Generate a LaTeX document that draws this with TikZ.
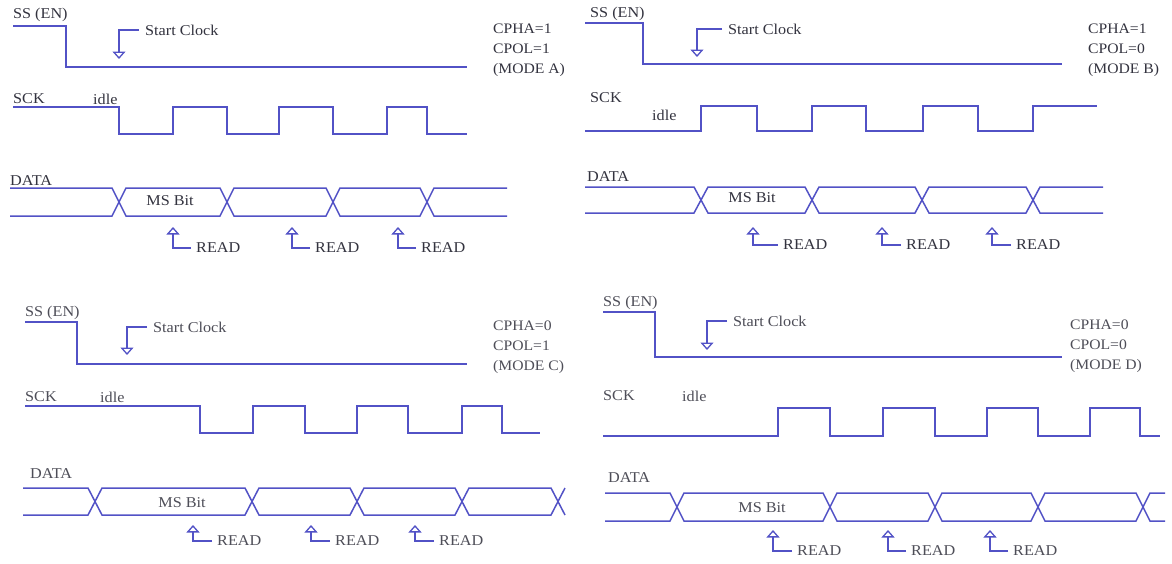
\documentclass[tikz,border=0pt]{standalone}
\usepackage{fontspec}
\setmainfont{Liberation Serif}[FakeStretch=1.08]
\usepackage{tikz}
\usetikzlibrary{arrows.meta}
\definecolor{wave}{HTML}{5252C6}
\definecolor{ink}{HTML}{33333F}
\definecolor{inklight}{HTML}{4E4E58}
\tikzset{
  sig/.style={draw=wave,line width=1.5pt,line join=miter},
  ptr/.style={draw=wave,line width=1.3pt,-{Triangle[open,width=13pt,length=7.5pt]}},
  lbl/.style={inner sep=0pt,anchor=west,text=ink,font=\fontsize{15}{18}\selectfont},
  modetxt/.style={inner sep=0pt,anchor=west,align=left,text=ink,font=\fontsize{14.5}{20}\selectfont},
  bittxt/.style={inner sep=0pt,text=ink,font=\fontsize{15}{18}\selectfont},
}

\begin{document}
\begin{tikzpicture}[x=1pt,y=-1pt]
  \fill[white] (0,0) rectangle (1172,563);
  \useasboundingbox (0,0) rectangle (1172,563);

  % mode A
  \node[lbl] (ssA) at (13,15) {SS (EN)};
  \draw[sig] (13,26) -- (66,26) -- (66,67) -- (467,67);
  \node[lbl] (startA) at (145,30) {Start Clock};
  \coordinate (clkA) at (119,59);
  \draw[ptr] ([xshift=-6]startA.west) -| (clkA);
  \node[modetxt] (modeA) at (493,50) {CPHA=1\\CPOL=1\\(MODE A)};
  \node[lbl] (sckA) at (13,99) {SCK};
  \node[lbl] (idleA) at (93,99) {idle};
  \draw[sig] (13,107) -- (119,107) -- (119,134) -- (173,134) -- (173,107) -- (227,107) -- (227,134)
    -- (279,134) -- (279,107) -- (333,107) -- (333,134) -- (387,134) -- (387,107) -- (427,107)
    -- (427,134) -- (467,134);
  \node[lbl] (dataA) at (10,181) {DATA};
  \draw[sig] (10,188) -- (112,188) -- (126,216) -- (220,216) -- (234,188) -- (326,188) -- (340,216)
    -- (420,216) -- (434,188) -- (507,188);
  \draw[sig] (10,216) -- (112,216) -- (126,188) -- (220,188) -- (234,216) -- (326,216) -- (340,188)
    -- (420,188) -- (434,216) -- (507,216);
  \node[bittxt] (msbA) at (170,201) {MS Bit};
  \node[lbl] (readA1) at (196,248) {READ};
  \node[lbl] (readA2) at (315,248) {READ};
  \node[lbl] (readA3) at (421,248) {READ};
  \coordinate (tipA1) at (173,227);
  \coordinate (tipA2) at (292,227);
  \coordinate (tipA3) at (398,227);
  \draw[ptr] ([xshift=-5]readA1.west) -| (tipA1);
  \draw[ptr] ([xshift=-5]readA2.west) -| (tipA2);
  \draw[ptr] ([xshift=-5]readA3.west) -| (tipA3);

  % mode B
  \node[lbl] (ssB) at (590,14) {SS (EN)};
  \draw[sig] (585,23) -- (643,23) -- (643,64) -- (1062,64);
  \node[lbl] (startB) at (728,29) {Start Clock};
  \coordinate (clkB) at (697,57);
  \draw[ptr] ([xshift=-6]startB.west) -| (clkB);
  \node[modetxt] (modeB) at (1088,50) {CPHA=1\\CPOL=0\\(MODE B)};
  \node[lbl] (sckB) at (590,98) {SCK};
  \node[lbl] (idleB) at (652,115) {idle};
  \draw[sig] (585,131) -- (701,131) -- (701,106) -- (757,106) -- (757,131) -- (812,131) -- (812,106)
    -- (866,106) -- (866,131) -- (923,131) -- (923,106) -- (978,106) -- (978,131) -- (1033,131)
    -- (1033,106) -- (1097,106);
  \node[lbl] (dataB) at (587,177) {DATA};
  \draw[sig] (585,187) -- (694,187) -- (708,213) -- (805,213) -- (819,187) -- (915,187) -- (929,213)
    -- (1026,213) -- (1040,187) -- (1103,187);
  \draw[sig] (585,213) -- (694,213) -- (708,187) -- (805,187) -- (819,213) -- (915,213) -- (929,187)
    -- (1026,187) -- (1040,213) -- (1103,213);
  \node[bittxt] (msbB) at (752,198) {MS Bit};
  \node[lbl] (readB1) at (783,245) {READ};
  \node[lbl] (readB2) at (906,245) {READ};
  \node[lbl] (readB3) at (1016,245) {READ};
  \coordinate (tipB1) at (753,227);
  \coordinate (tipB2) at (882,227);
  \coordinate (tipB3) at (992,227);
  \draw[ptr] ([xshift=-5]readB1.west) -| (tipB1);
  \draw[ptr] ([xshift=-5]readB2.west) -| (tipB2);
  \draw[ptr] ([xshift=-5]readB3.west) -| (tipB3);

  % mode C
  \node[lbl,text=inklight] (ssC) at (25,313) {SS (EN)};
  \draw[sig] (25,322) -- (77,322) -- (77,364) -- (467,364);
  \node[lbl,text=inklight] (startC) at (153,327) {Start Clock};
  \coordinate (clkC) at (127,355);
  \draw[ptr] ([xshift=-6]startC.west) -| (clkC);
  \node[modetxt,text=inklight] (modeC) at (493,347) {CPHA=0\\CPOL=1\\(MODE C)};
  \node[lbl,text=inklight] (sckC) at (25,397) {SCK};
  \node[lbl,text=inklight] (idleC) at (100,397) {idle};
  \draw[sig] (25,406) -- (200,406) -- (200,433) -- (253,433) -- (253,406) -- (305,406) -- (305,433)
    -- (357,433) -- (357,406) -- (408,406) -- (408,433) -- (462,433) -- (462,406) -- (502,406)
    -- (502,433) -- (540,433);
  \node[lbl,text=inklight] (dataC) at (30,474) {DATA};
  \draw[sig] (23,488) -- (88,488) -- (102,515) -- (245,515) -- (259,488) -- (350,488) -- (364,515)
    -- (455,515) -- (469,488) -- (551,488) -- (565,515);
  \draw[sig] (23,515) -- (88,515) -- (102,488) -- (245,488) -- (259,515) -- (350,515) -- (364,488)
    -- (455,488) -- (469,515) -- (551,515) -- (565,488);
  \node[bittxt,text=inklight] (msbC) at (182,503) {MS Bit};
  \node[lbl,text=inklight] (readC1) at (217,541) {READ};
  \node[lbl,text=inklight] (readC2) at (335,541) {READ};
  \node[lbl,text=inklight] (readC3) at (439,541) {READ};
  \coordinate (tipC1) at (193,525);
  \coordinate (tipC2) at (311,525);
  \coordinate (tipC3) at (415,525);
  \draw[ptr] ([xshift=-5]readC1.west) -| (tipC1);
  \draw[ptr] ([xshift=-5]readC2.west) -| (tipC2);
  \draw[ptr] ([xshift=-5]readC3.west) -| (tipC3);

  % mode D
  \node[lbl,text=inklight] (ssD) at (603,303) {SS (EN)};
  \draw[sig] (603,312) -- (655,312) -- (655,357) -- (1062,357);
  \node[lbl,text=inklight] (startD) at (733,321) {Start Clock};
  \coordinate (clkD) at (707,350);
  \draw[ptr] ([xshift=-6]startD.west) -| (clkD);
  \node[modetxt,text=inklight] (modeD) at (1070,346) {CPHA=0\\CPOL=0\\(MODE D)};
  \node[lbl,text=inklight] (sckD) at (603,396) {SCK};
  \node[lbl,text=inklight] (idleD) at (682,396) {idle};
  \draw[sig] (603,436) -- (778,436) -- (778,408) -- (830,408) -- (830,436) -- (883,436) -- (883,408)
    -- (935,408) -- (935,436) -- (987,436) -- (987,408) -- (1038,408) -- (1038,436) -- (1090,436)
    -- (1090,408) -- (1140,408) -- (1140,436) -- (1160,436);
  \node[lbl,text=inklight] (dataD) at (608,478) {DATA};
  \draw[sig] (605,493) -- (670,493) -- (684,521) -- (823,521) -- (837,493) -- (928,493) -- (942,521)
    -- (1031,521) -- (1045,493) -- (1136,493) -- (1150,521) -- (1165,521);
  \draw[sig] (605,521) -- (670,521) -- (684,493) -- (823,493) -- (837,521) -- (928,521) -- (942,493)
    -- (1031,493) -- (1045,521) -- (1136,521) -- (1150,493) -- (1165,493);
  \node[bittxt,text=inklight] (msbD) at (762,508) {MS Bit};
  \node[lbl,text=inklight] (readD1) at (797,551) {READ};
  \node[lbl,text=inklight] (readD2) at (911,551) {READ};
  \node[lbl,text=inklight] (readD3) at (1013,551) {READ};
  \coordinate (tipD1) at (773,530);
  \coordinate (tipD2) at (888,530);
  \coordinate (tipD3) at (990,530);
  \draw[ptr] ([xshift=-5]readD1.west) -| (tipD1);
  \draw[ptr] ([xshift=-5]readD2.west) -| (tipD2);
  \draw[ptr] ([xshift=-5]readD3.west) -| (tipD3);
\end{tikzpicture}
\end{document}
